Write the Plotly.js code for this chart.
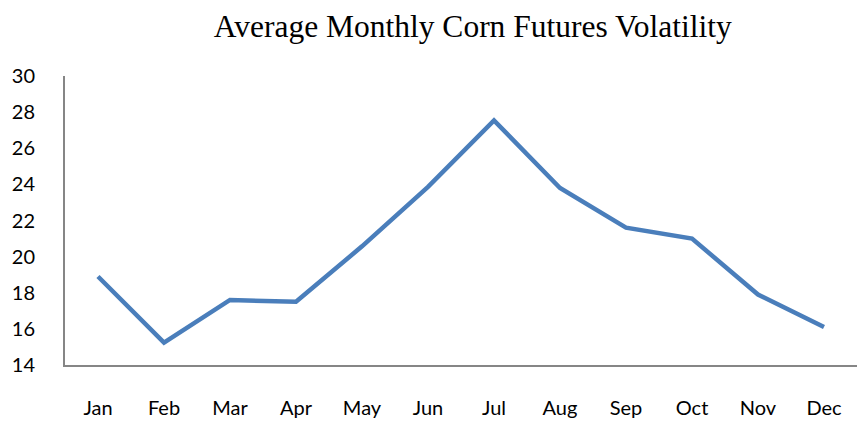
<!DOCTYPE html>
<html><head><meta charset="utf-8">
<script src="https://cdn.plot.ly/plotly-3.0.1.min.js"></script>
<style>html,body{margin:0;padding:0;background:#fff}#c{width:858px;height:428px}</style>
</head><body><div id="c"></div>
<script>
const months = ["Jan","Feb","Mar","Apr","May","Jun","Jul","Aug","Sep","Oct","Nov","Dec"];
const volatility = [18.9,15.24,17.6,17.5,20.57,23.86,27.54,23.8,21.6,21.0,17.9,16.1];
const yTicks = [14,16,18,20,22,24,26,28,30];

Plotly.newPlot('c',[{
  x: months, y: volatility, type:'scatter', mode:'lines',
  line:{color:'#4A7EBB', width:4.5}
}],{
  width:858, height:428,
  margin:{l:65,r:1,t:76,b:63},
  paper_bgcolor:'#fff', plot_bgcolor:'#fff',
  showlegend:false,
  title:{text:'Average Monthly Corn Futures Volatility', font:{family:'Liberation Serif', size:31.5, color:'#000'}, x:0.551, xanchor:'center', y:0.94, yanchor:'middle'},
  xaxis:{type:'category', range:[-0.5,11.5], showline:true, linecolor:'#868686', linewidth:2, showgrid:false, zeroline:false, ticks:'', ticklabelstandoff:24, tickfont:{family:'Lato', size:20, color:'#000'}},
  yaxis:{range:[14,30], tickvals:yTicks, showline:true, linecolor:'#868686', linewidth:2, showgrid:false, zeroline:false, ticks:'', ticklabelstandoff:24, tickfont:{family:'Lato', size:20, color:'#000'}}
},{staticPlot:true});
</script></body></html>
